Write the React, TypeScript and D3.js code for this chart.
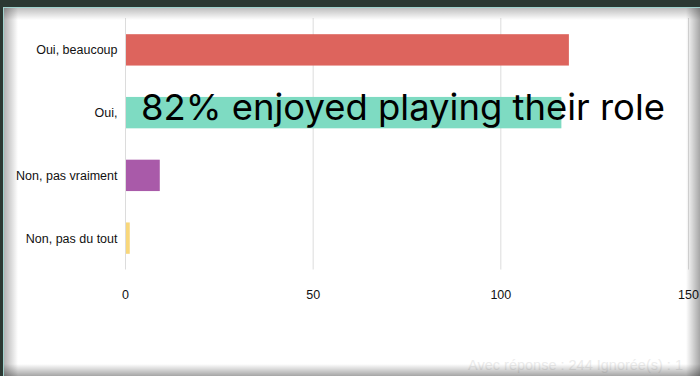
import React from "react";
import * as d3 from "d3";

const categories = ["Oui, beaucoup", "Oui,", "Non, pas vraiment", "Non, pas du tout"];
const values = [118, 116, 9, 1];
const colors = ["#dc5f58", "#7adac0", "#a655a6", "#f8d677"];
const xTicks = [0, 50, 100, 150];
const overlayText = "82% enjoyed playing their role";
const footerText = "Avec réponse : 244  Ignorée(s) : 1";

const W = 700;
const H = 376;

export default function App() {
  const x = d3.scaleLinear().domain([0, 150]).range([125.5, 688.5]);
  const y = d3
    .scaleBand<string>()
    .domain(categories)
    .range([18.5, 269.5])
    .paddingInner(0.5)
    .paddingOuter(0.25);

  return (
    <svg
      width={W}
      height={H}
      style={{ position: "fixed", left: 0, top: 0, display: "block" }}
      fontFamily="'Liberation Sans', Arial, sans-serif"
    >
      <defs>
        <linearGradient id="gl" x1="0" x2="1" y1="0" y2="0">
          <stop offset="0" stopColor="#000" stopOpacity="0.3" />
          <stop offset="1" stopColor="#000" stopOpacity="0" />
        </linearGradient>
        <linearGradient id="gt" x1="0" x2="0" y1="0" y2="1">
          <stop offset="0" stopColor="#000" stopOpacity="0.25" />
          <stop offset="1" stopColor="#000" stopOpacity="0" />
        </linearGradient>
        <linearGradient id="gr" x1="1" x2="0" y1="0" y2="0">
          <stop offset="0" stopColor="#000" stopOpacity="0.35" />
          <stop offset="1" stopColor="#000" stopOpacity="0" />
        </linearGradient>
        <linearGradient id="gb" x1="0" x2="0" y1="1" y2="0">
          <stop offset="0" stopColor="#000" stopOpacity="0.35" />
          <stop offset="1" stopColor="#000" stopOpacity="0" />
        </linearGradient>
      </defs>
      <rect x={0} y={0} width={W} height={H} fill="#2b3832" />
      <rect x={3} y={7} width={W - 3} height={H - 7} fill="#9fd2cd" />
      <rect x={4} y={8} width={W - 4} height={H - 8} fill="#ffffff" />
      {/* gridlines */}
      {xTicks.map((t) => (
        <line
          key={t}
          x1={x(t)}
          x2={x(t)}
          y1={18}
          y2={269.5}
          stroke="#dcdcdc"
          strokeWidth={1}
        />
      ))}
      {/* bars */}
      {categories.map((c, i) => (
        <rect
          key={c}
          x={x(0) + 0.5}
          y={y(c)}
          width={x(values[i]) - x(0)}
          height={y.bandwidth()}
          fill={colors[i]}
          opacity={0.97}
        />
      ))}
      {/* category labels */}
      {categories.map((c) => (
        <text
          key={c}
          x={117.5}
          y={(y(c) as number) + y.bandwidth() / 2}
          dy="0.35em"
          textAnchor="end"
          fontSize={12.5}
          fill="#111"
        >
          {c}
        </text>
      ))}
      {/* tick labels */}
      {xTicks.map((t) => (
        <text
          key={t}
          x={x(t)}
          y={295}
          dy="0.35em"
          textAnchor="middle"
          fontSize={12.5}
          fill="#111"
        >
          {t}
        </text>
      ))}
      {/* overlay */}
      <text
        x={141}
        y={120}
        fontFamily="Inter, 'Open Sans', sans-serif"
        fontSize={36}
        fill="#000"
        textLength={524}
        lengthAdjust="spacingAndGlyphs"
      >
        {overlayText}
      </text>
      {/* footer */}
      <text
        x={683}
        y={370}
        textAnchor="end"
        fontSize={14.5}
        fill="#ececec"
      >
        {footerText}
      </text>
      {/* inset shadows */}
      <rect x={4} y={8} width={14} height={H - 8} fill="url(#gl)" />
      <rect x={4} y={8} width={W - 4} height={12} fill="url(#gt)" />
      <rect x={W - 14} y={8} width={14} height={H - 8} fill="url(#gr)" />
      <rect x={4} y={H - 12} width={W - 4} height={12} fill="url(#gb)" />
    </svg>
  );
}
